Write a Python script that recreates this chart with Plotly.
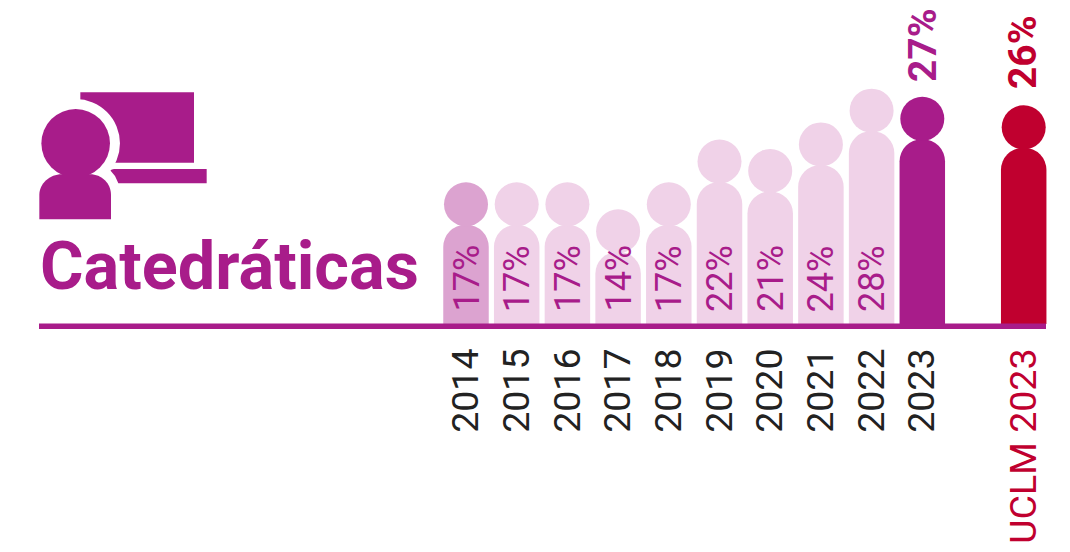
import plotly.graph_objects as go

# ---- data ----
years = ["2014", "2015", "2016", "2017", "2018", "2019", "2020", "2021", "2022", "2023"]
gap_category = " "
uclm_label = "UCLM 2023"
categories = years + [gap_category, uclm_label]

year_values = [17.3, 17.3, 17.3, 14.15, 17.3, 22.3, 21.2, 24.3, 28.25, 27.3]
uclm_value = [26.3]
year_labels = ["17%", "17%", "17%", "14%", "17%", "22%", "21%", "24%", "28%", "27%"]
uclm_text = ["26%"]

# ---- styling ----
W, H = 1070, 552
PURPLE = "#A81C8A"
RED = "#C0002F"
LIGHT = "#F0D2E8"
MID = "#DCA3D0"
INK = "#222222"
FONT = "Roboto"

bar_colors = [MID] + [LIGHT] * 8 + [PURPLE]

AXIS_BASE = 5.7          # value sitting on the baseline
PX_PER_UNIT = 8.55
BASE_PX = 324
HEAD_GAP = 2.4           # head centre above bar top, in value units
STEP = 50.7
FIRST_PX = 466


def above_base(v):
    return v - AXIS_BASE


def px(x):
    return x / W


def py(y):
    return 1 - y / H


def icon_path(points, close=True):
    parts = []
    for i, p in enumerate(points):
        if p[0] == "C":
            parts.append("C{:.5f},{:.5f} {:.5f},{:.5f} {:.5f},{:.5f}".format(
                px(p[1]), py(p[2]), px(p[3]), py(p[4]), px(p[5]), py(p[6])))
        else:
            parts.append(("M" if i == 0 else "L") + "{:.5f},{:.5f}".format(px(p[0]), py(p[1])))
    return " ".join(parts) + (" Z" if close else "")


def zoom_pt(X, Y):
    return 20 + X / 3, 80 + Y / 3


def icon_shape(path, color=PURPLE):
    return dict(type="path", xref="paper", yref="paper", path=path,
                fillcolor=color, line=dict(width=0), layer="above")


def circle(cx, cy, r, color):
    return dict(type="circle", xref="paper", yref="paper",
                x0=px(cx - r), x1=px(cx + r), y0=py(cy + r), y1=py(cy - r),
                fillcolor=color, line=dict(width=0), layer="above")


def rect(x0, y0, x1, y1, color):
    return dict(type="rect", xref="paper", yref="paper",
                x0=px(x0), x1=px(x1), y0=py(y1), y1=py(y0),
                fillcolor=color, line=dict(width=0), layer="above")


fig = go.Figure()

fig.add_bar(x=years, y=[above_base(v) for v in year_values],
            width=0.897, marker=dict(color=bar_colors, cornerradius=22, line=dict(width=0)),
            hoverinfo="skip", showlegend=False)
fig.add_bar(x=[uclm_label], y=[above_base(v) for v in uclm_value],
            width=0.897, marker=dict(color=RED, cornerradius=22, line=dict(width=0)),
            hoverinfo="skip", showlegend=False)

fig.add_scatter(x=years, y=[above_base(v) + HEAD_GAP for v in year_values], mode="markers",
                marker=dict(size=44, color=bar_colors, line=dict(width=0)),
                hoverinfo="skip", showlegend=False)
fig.add_scatter(x=[uclm_label], y=[above_base(v) + HEAD_GAP for v in uclm_value], mode="markers",
                marker=dict(size=44, color=RED, line=dict(width=0)),
                hoverinfo="skip", showlegend=False)

annotations = []
for i, lab in enumerate(year_labels[:-1]):
    annotations.append(dict(x=i, y=0, text=lab, textangle=-90, showarrow=False,
                            xanchor="center", yanchor="bottom", yshift=10,
                            font=dict(family=FONT, size=36, color=PURPLE, weight=400)))
annotations.append(dict(x=len(years) - 1, y=above_base(year_values[-1]) + HEAD_GAP,
                        text=year_labels[-1], textangle=-90, showarrow=False,
                        xanchor="center", yanchor="bottom", yshift=35,
                        font=dict(family=FONT, size=39, color=PURPLE, weight=700)))
annotations.append(dict(x=categories.index(uclm_label), y=above_base(uclm_value[0]) + HEAD_GAP,
                        text=uclm_text[0], textangle=-90, showarrow=False,
                        xanchor="center", yanchor="bottom", yshift=36,
                        font=dict(family=FONT, size=39, color=RED, weight=700)))
annotations.append(dict(xref="paper", yref="paper", x=px(38), y=py(266), text="<b>Catedráticas</b>",
                        showarrow=False, xanchor="left", yanchor="middle",
                        font=dict(family=FONT, size=66.6, color=PURPLE)))

# icon, built in reference pixels
sx0, sy0 = zoom_pt(181, 37)
sx1, sy1 = zoom_pt(522, 248)
head_c = zoom_pt(167, 190)
table = [zoom_pt(*p) for p in [(270, 270), (282, 267), (560, 267), (560, 310), (295, 310), (285, 288)]]
b = lambda X, Y: zoom_pt(X, Y)
body = [b(58, 418), b(58, 345),
        ("C", *b(58, 310), *b(90, 283), *b(125, 283)),
        b(210, 283),
        ("C", *b(245, 283), *b(273, 310), *b(273, 345)),
        b(273, 418)]

shapes = [
    rect(sx0, sy0, sx1, sy1, PURPLE),
    icon_shape(icon_path(table)),
    circle(head_c[0], head_c[1], 44.3, "white"),
    circle(head_c[0], head_c[1], 34.3, PURPLE),
    icon_shape(icon_path(body)),
    rect(39, 323.5, 1046, 329, PURPLE),
]

ticktext = years + ['<span style="color:%s">%s</span>' % (RED, uclm_label)]

fig.update_layout(
    width=W, height=H, margin=dict(l=0, r=0, t=0, b=0, pad=0),
    paper_bgcolor="white", plot_bgcolor="white", barmode="overlay",
    font=dict(family=FONT), showlegend=False,
    annotations=annotations, shapes=shapes,
    xaxis=dict(type="category", categoryorder="array", categoryarray=categories,
               range=[-FIRST_PX / STEP, (W - FIRST_PX) / STEP],
               anchor="free", position=(H - 329) / H, side="bottom",
               tickmode="array", tickvals=years + [uclm_label], ticktext=ticktext,
               tickangle=-90, ticks="", showline=False, showgrid=False, zeroline=False,
               ticklabelstandoff=11,
               tickfont=dict(family=FONT, size=37.5, color=INK, weight=400)),
    yaxis=dict(range=[-(H - BASE_PX) / PX_PER_UNIT, BASE_PX / PX_PER_UNIT],
               visible=False, showgrid=False, zeroline=False),
)

fig.write_html("out.html", config=dict(displayModeBar=False),
               post_script="document.body.style.margin='0';")
